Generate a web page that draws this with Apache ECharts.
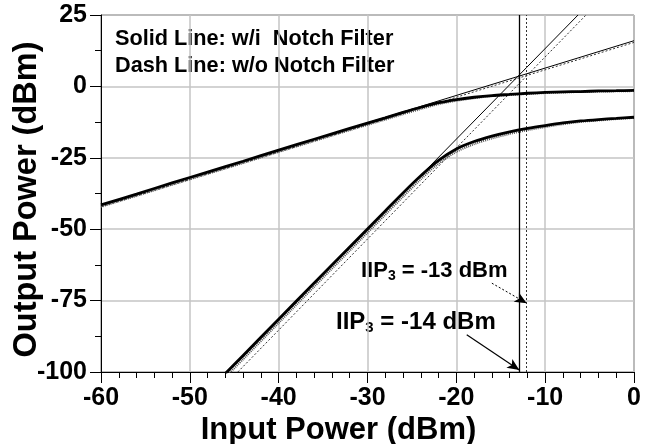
<!DOCTYPE html>
<html>
<head>
<meta charset="utf-8">
<script src="https://cdn.jsdelivr.net/npm/echarts@6/dist/echarts.min.js"></script>
<style>
  html, body { margin: 0; padding: 0; background: #fff; }
  #chart { width: 649px; height: 444px; }
</style>
</head>
<body>
<div id="chart"></div>
<script>
// input power sweep (dBm)
const pinFund = [-60, -56, -52, -48, -44, -40, -36, -32, -28, -26, -24, -22, -20, -18, -16, -14, -12, -10, -8, -6, -4, -2, 0];
// fundamental output, with / without notch filter
const fundWith    = [-41.5, -37.7, -33.8, -30.0, -26.2, -22.3, -18.5, -14.7, -11.0, -9.1, -7.3, -5.7, -4.6, -3.8, -3.2, -2.8, -2.4, -2.1, -1.9, -1.8, -1.6, -1.5, -1.4];
const fundWithout = [-42.1, -38.3, -34.4, -30.6, -26.8, -22.9, -19.1, -15.3, -11.6, -9.7, -7.9, -6.2, -5.0, -4.1, -3.4, -3.0, -2.6, -2.3, -2.1, -1.9, -1.8, -1.7, -1.6];

// third order intermod output
const pinIm3 = [-46, -44, -40, -36, -32, -28, -26, -24, -22, -20, -18, -16, -14, -12, -10, -8, -6, -4, -2, 0];
const im3With    = [-100.5, -94.2, -81.5, -68.8, -56.2, -43.6, -37.3, -31.3, -25.9, -21.9, -19.3, -17.4, -15.9, -14.7, -13.7, -12.8, -12.1, -11.6, -11.2, -10.8];
const im3Without = [-101.8, -95.5, -82.8, -70.1, -57.5, -44.9, -38.6, -32.5, -27.0, -22.9, -20.2, -18.2, -16.6, -15.3, -14.2, -13.2, -12.4, -11.9, -11.4, -11.0];

// extrapolated lines (end points)
const fundExtX = [-60, 0];
const fundExtWith = [-41.5, 16];
const fundExtWithout = [-42.2, 15.4];
const im3ExtWithX = [-45.7, -6.3];
const im3ExtWithoutX = [-44.6, -5.4];
const im3ExtY = [-100, 25];

// IIP3 markers
const iip3Solid = -12.9;
const iip3Dash = -12.1;
const arrow13 = [[-16.0, -68.9], [-12.08, -75.9]];
const arrow14 = [[-18.83, -87.0], [-12.91, -99.3]];

// axes
const xMin = -60, xMax = 0, xStep = 10;
const yMin = -100, yMax = 25, yStep = 25;

const FONT = '"Liberation Sans", Arial, Helvetica, sans-serif';

const pairs = (xs, ys) => xs.map((x, i) => [x, ys[i]]);

const chart = echarts.init(document.getElementById('chart'), null, { renderer: 'canvas' });

const thick = { color: '#000', width: 2.8 };
const thickDot = { color: '#555', width: 2.2, type: [1, 1] };
const thin = { color: '#000', width: 1 };
const thinDot = { color: '#333', width: 1, type: [2, 2] };

const lineSeries = (data, style, z, smooth) => ({
  type: 'line',
  data: data,
  showSymbol: false,
  symbol: 'none',
  smooth: smooth || false,
  lineStyle: style,
  silent: true,
  z: z,
  clip: true
});

chart.setOption({
  animation: false,
  grid: {
    left: 101, right: 15, top: 15, bottom: 72,
    containLabel: false, outerBoundsMode: 'none',
    show: true, borderColor: '#444', borderWidth: 1
  },
  xAxis: {
    type: 'value', min: xMin, max: xMax, interval: xStep,
    axisLine: { show: true, onZero: false, lineStyle: { color: '#000', width: 1 } },
    axisTick: { show: true, inside: false, length: 11, lineStyle: { color: '#000' } },
    minorTick: { show: true, splitNumber: 5, length: 6, lineStyle: { color: '#000' } },
    splitLine: { show: true, lineStyle: { color: '#c4c4c4', width: 1.5 } },
    axisLabel: { color: '#000', fontFamily: FONT, fontWeight: 'bold', fontSize: 25, margin: 14 },
    name: 'Input Power (dBm)',
    nameLocation: 'middle',
    nameGap: 43,
    nameMoveOverlap: false,
    nameTextStyle: { color: '#000', fontFamily: FONT, fontWeight: 'bold', fontSize: 31, padding: [0, 58, 0, 0] }
  },
  yAxis: {
    type: 'value', min: yMin, max: yMax, interval: yStep,
    axisLine: { show: true, onZero: false, lineStyle: { color: '#000', width: 1 } },
    axisTick: { show: true, inside: false, length: 11, lineStyle: { color: '#000' } },
    minorTick: { show: true, splitNumber: 2, length: 6, lineStyle: { color: '#000' } },
    splitLine: { show: true, lineStyle: { color: '#c4c4c4', width: 1.5 } },
    axisLabel: { color: '#000', fontFamily: FONT, fontWeight: 'bold', fontSize: 25, margin: 14 },
    name: 'Output Power (dBm)',
    nameLocation: 'middle',
    nameGap: 57,
    nameRotate: 90,
    nameMoveOverlap: false,
    nameTextStyle: { color: '#000', fontFamily: FONT, fontWeight: 'bold', fontSize: 32.5, padding: [0, 12, 0, 0] }
  },
  series: [
    lineSeries(pairs(fundExtX, fundExtWithout), thinDot, 2),
    lineSeries(pairs(im3ExtWithoutX, im3ExtY), thinDot, 2),
    lineSeries(pairs(pinFund, fundWithout), thickDot, 3, 0.3),
    lineSeries(pairs(pinIm3, im3Without), thickDot, 3, 0.3),
    lineSeries(pairs(fundExtX, fundExtWith), thin, 4),
    lineSeries(pairs(im3ExtWithX, im3ExtY), thin, 4),
    lineSeries(pairs(pinFund, fundWith), thick, 5, 0.3),
    Object.assign(lineSeries(pairs(pinIm3, im3With), thick, 5, 0.3), {
      markLine: {
        silent: true,
        animation: false,
        label: { show: false },
        emphasis: { disabled: true },
        data: [
          [{ coord: [iip3Solid, yMin], symbol: 'none', lineStyle: { color: '#000', width: 1.3, type: 'solid' } },
           { coord: [iip3Solid, yMax], symbol: 'none' }],
          [{ coord: [iip3Dash, yMin], symbol: 'none', lineStyle: { color: '#333', width: 1, type: [2, 2] } },
           { coord: [iip3Dash, yMax], symbol: 'none' }],
          [{ coord: arrow13[0], symbol: 'none', lineStyle: { color: '#000', width: 1, type: [2, 2] } },
           { coord: arrow13[1], symbol: 'arrow', symbolSize: [8, 12] }],
          [{ coord: arrow14[0], symbol: 'none', lineStyle: { color: '#000', width: 1.2, type: 'solid' } },
           { coord: arrow14[1], symbol: 'arrow', symbolSize: [8, 12] }]
        ]
      }
    })
  ],
  graphic: [
    {
      type: 'text', left: 115, top: 28, silent: true,
      style: { text: 'Solid Line: w/i  Notch Filter', fill: '#000', font: 'bold 21.7px ' + FONT }
    },
    {
      type: 'text', left: 115, top: 55, silent: true,
      style: { text: 'Dash Line: w/o Notch Filter', fill: '#000', font: 'bold 21.7px ' + FONT }
    },
    {
      type: 'text', left: 361, top: 259, silent: true,
      style: {
        text: '{a|IIP}{s|3}{a| = -13 dBm}',
        rich: {
          a: { fontFamily: FONT, fontWeight: 'bold', fontSize: 22, fill: '#000', lineHeight: 26 },
          s: { fontFamily: FONT, fontWeight: 'bold', fontSize: 14, fill: '#000', lineHeight: 26, padding: [10, 0, 0, 0] }
        }
      }
    },
    {
      type: 'text', left: 336, top: 309, silent: true,
      style: {
        text: '{a|IIP}{s|3}{a| = -14 dBm}',
        rich: {
          a: { fontFamily: FONT, fontWeight: 'bold', fontSize: 24, fill: '#000', lineHeight: 28 },
          s: { fontFamily: FONT, fontWeight: 'bold', fontSize: 15, fill: '#000', lineHeight: 28, padding: [11, 0, 0, 0] }
        }
      }
    }
  ]
});
</script>
</body>
</html>
